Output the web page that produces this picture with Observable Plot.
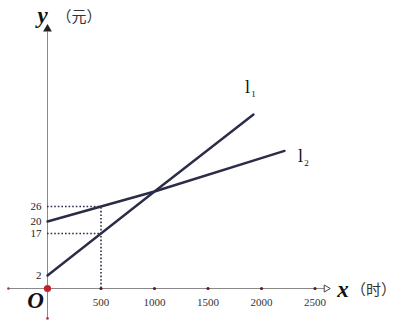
<!DOCTYPE html>
<html>
<head>
<meta charset="utf-8">
<script src="https://cdn.jsdelivr.net/npm/d3@7"></script>
<script src="https://cdn.jsdelivr.net/npm/@observablehq/plot@0.6"></script>
<style>
  html, body { margin: 0; padding: 0; background: #fff; }
  #chart svg { display: block; }
</style>
</head>
<body>
<div id="chart"></div>
<script>
// ---- data ----
const xTicks = [500, 1000, 1500, 2000, 2500];
const yTicks = [2, 17, 20, 26];
const l1X = [0, 500, 1000, 1925];
const l1Y = [2, 17, 32, 59.75];
const l2X = [0, 500, 1000, 2215];
const l2Y = [20, 26, 32, 46.6];
const guideX = 500;
const guideY = [26, 17];
const lineNames = ["l", "l"];
const lineSubs = ["1", "2"];
const xName = "x", xUnit = "（时）";
const yName = "y", yUnit = "（元）";
const originName = "O";

// axis extents (in data units)
const xLo = -365, xHi = 2630, yLo = -4.6, yHi = 90.5;

const l1 = l1X.map((x, i) => ({x, y: l1Y[i]}));
const l2 = l2X.map((x, i) => ({x, y: l2Y[i]}));

const navy = "#2b2c48";
const axisC = "#8a8a8a";
const serif = "'Liberation Serif', 'DejaVu Serif', serif";
const cjk = "'Noto Sans CJK SC', sans-serif";

// the reference's y axis is schematic (not to scale): piecewise-linear scale
const yDomain = [0, 2, 17, 20, 26, 32, 62];
const yRange = [288, 275, 233, 221, 206, 191, 107.7];

const chart = Plot.plot({
  width: 400,
  height: 324,
  x: {type: "linear", domain: [0, 2500], range: [47, 314.5]},
  y: {type: "linear", domain: yDomain, range: yRange},
  axis: null,
  marks: [
    // axes
    Plot.ruleY([0], {x1: xLo, x2: xHi - 40, stroke: axisC, strokeWidth: 1}),
    Plot.ruleX([0], {y1: yLo, y2: yHi - 1, stroke: axisC, strokeWidth: 1}),
    Plot.dot([{x: xHi - 25, y: 0}], {x: "x", y: "y", symbol: "triangle", r: 2.6, rotate: 90, fill: "white", stroke: "#444", strokeWidth: 1}),
    Plot.dot([{x: 0, y: yHi}], {x: "x", y: "y", symbol: "triangle", r: 2.3, fill: "#222", stroke: "#222"}),
    Plot.dot([{x: xLo, y: 0}, {x: 0, y: yLo}], {x: "x", y: "y", r: 1.3, fill: "#b03040"}),
    // guides
    Plot.ruleY(guideY, {x1: 0, x2: guideX, y: d => d, stroke: navy, strokeWidth: 1.6, strokeDasharray: "1.6,2"}),
    Plot.ruleX([guideX], {y1: 0, y2: guideY[0], stroke: navy, strokeWidth: 1.6, strokeDasharray: "1.6,2"}),
    // lines
    Plot.line(l1, {x: "x", y: "y", stroke: navy, strokeWidth: 2.4}),
    Plot.line(l2, {x: "x", y: "y", stroke: navy, strokeWidth: 2.4}),
    // tick dots
    Plot.dot(xTicks, {x: d => d, y: () => 0, r: 1.6, fill: "#5a1a28"}),
    Plot.dot([0], {x: 0, y: 0, r: 3.6, fill: "#c4202c"}),
    // tick labels
    Plot.text(xTicks, {x: d => d, y: () => 0, text: d => String(d), dy: 14, fontSize: 11, fontFamily: serif, fill: "#333"}),
    Plot.text(yTicks, {x: () => 0, y: d => d, text: d => String(d), dx: -6, textAnchor: "end", fontSize: 11, fontFamily: serif, fill: "#222"}),
    // origin
    Plot.text([originName], {x: () => 0, y: () => 0, text: d => d, dx: -12, dy: 12, fontSize: 23, fontWeight: "bold", fontStyle: "italic", fontFamily: serif, fill: "#111"}),
    // axis names
    Plot.text([yName], {x: () => 0, y: () => yHi, text: d => d, dx: -5, dy: -13, fontSize: 23, fontWeight: "bold", fontStyle: "italic", fontFamily: serif, fill: "#111"}),
    Plot.text([yUnit], {x: () => 0, y: () => yHi, text: d => d, dx: 9, dy: -12, textAnchor: "start", fontSize: 15, fontFamily: cjk, fill: "#333"}),
    Plot.text([xName], {x: () => xHi, y: () => 0, text: d => d, dx: 14, dy: 1, fontSize: 23, fontWeight: "bold", fontStyle: "italic", fontFamily: serif, fill: "#111"}),
    Plot.text([xUnit], {x: () => xHi, y: () => 0, text: d => d, dx: 22, dy: 2, textAnchor: "start", fontSize: 15, fontFamily: cjk, fill: "#333"}),
    // line labels
    Plot.text([l1[l1.length - 1]], {x: "x", y: "y", text: () => lineNames[0], dx: -6, dy: -27, fontSize: 18, fontFamily: serif, fill: "#111"}),
    Plot.text([l1[l1.length - 1]], {x: "x", y: "y", text: () => lineSubs[0], dx: 0, dy: -20, fontSize: 9, fontFamily: serif, fill: "#111"}),
    Plot.text([l2[l2.length - 1]], {x: "x", y: "y", text: () => lineNames[1], dx: 16, dy: 5, fontSize: 18, fontFamily: serif, fill: "#111"}),
    Plot.text([l2[l2.length - 1]], {x: "x", y: "y", text: () => lineSubs[1], dx: 22, dy: 12, fontSize: 9, fontFamily: serif, fill: "#111"})
  ]
});
document.getElementById("chart").appendChild(chart);
</script>
</body>
</html>
